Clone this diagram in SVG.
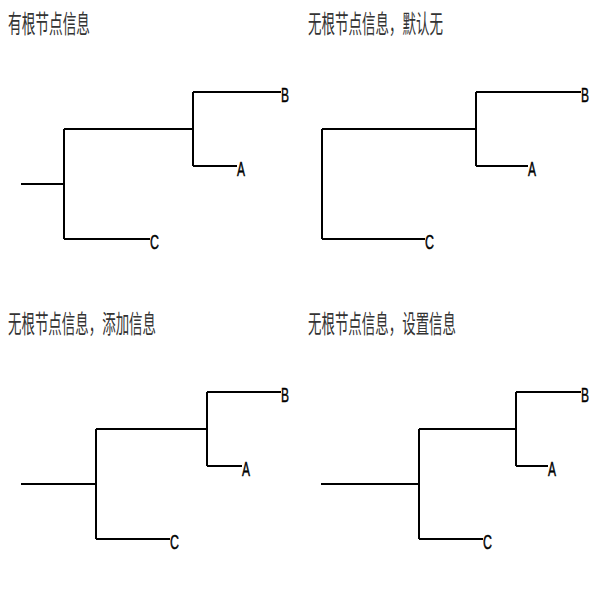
<svg xmlns="http://www.w3.org/2000/svg" width="600" height="600" viewBox="0 0 600 600">
<style>
.title{font-family:"Noto Sans CJK SC","Noto Sans",sans-serif;font-size:25px;fill:#333}
.leaf{font-family:"Liberation Sans",Arial,sans-serif;font-size:21px;fill:#000;stroke:#000;stroke-width:0.5}
.edge{fill:none;stroke:#000;stroke-width:2}
</style>
<rect width="600" height="600" fill="#fff"/>
<g id="titles">
<text class="title" x="8" y="33" textLength="82" lengthAdjust="spacingAndGlyphs">有根节点信息</text>
<text class="title" x="308" y="33" textLength="135" lengthAdjust="spacingAndGlyphs">无根节点信息，默认无</text>
<text class="title" x="8" y="333" textLength="148" lengthAdjust="spacingAndGlyphs">无根节点信息，添加信息</text>
<text class="title" x="308" y="333" textLength="148" lengthAdjust="spacingAndGlyphs">无根节点信息，设置信息</text>
</g>
<g id="connectors">
<path class="edge" d="M21 184H64M64 129V239M64 239H150M64 129H193M193 92V166M193 92H281M193 166H237"/>
<path class="edge" d="M322 129V239M322 239H425M322 129H476M476 92V166M476 92H581M476 166H528"/>
<path class="edge" d="M21 484H96M96 429V539M96 539H170M96 429H207M207 392V466M207 392H281M207 466H242"/>
<path class="edge" d="M321 484H419M419 429V539M419 539H483M419 429H516M516 392V466M516 392H581M516 466H548"/>
</g>
<g id="p1-B"><text class="leaf" x="281" y="102" textLength="8" lengthAdjust="spacingAndGlyphs">B</text></g>
<g id="p1-A"><text class="leaf" x="237" y="176" textLength="8" lengthAdjust="spacingAndGlyphs">A</text></g>
<g id="p1-C"><text class="leaf" x="150" y="249" textLength="9" lengthAdjust="spacingAndGlyphs">C</text></g>
<g id="p2-B"><text class="leaf" x="581" y="102" textLength="8" lengthAdjust="spacingAndGlyphs">B</text></g>
<g id="p2-A"><text class="leaf" x="528" y="176" textLength="8" lengthAdjust="spacingAndGlyphs">A</text></g>
<g id="p2-C"><text class="leaf" x="425" y="249" textLength="9" lengthAdjust="spacingAndGlyphs">C</text></g>
<g id="p3-B"><text class="leaf" x="281" y="402" textLength="8" lengthAdjust="spacingAndGlyphs">B</text></g>
<g id="p3-A"><text class="leaf" x="242" y="476" textLength="8" lengthAdjust="spacingAndGlyphs">A</text></g>
<g id="p3-C"><text class="leaf" x="170" y="549" textLength="9" lengthAdjust="spacingAndGlyphs">C</text></g>
<g id="p4-B"><text class="leaf" x="581" y="402" textLength="8" lengthAdjust="spacingAndGlyphs">B</text></g>
<g id="p4-A"><text class="leaf" x="548" y="476" textLength="8" lengthAdjust="spacingAndGlyphs">A</text></g>
<g id="p4-C"><text class="leaf" x="483" y="549" textLength="9" lengthAdjust="spacingAndGlyphs">C</text></g>
</svg>
